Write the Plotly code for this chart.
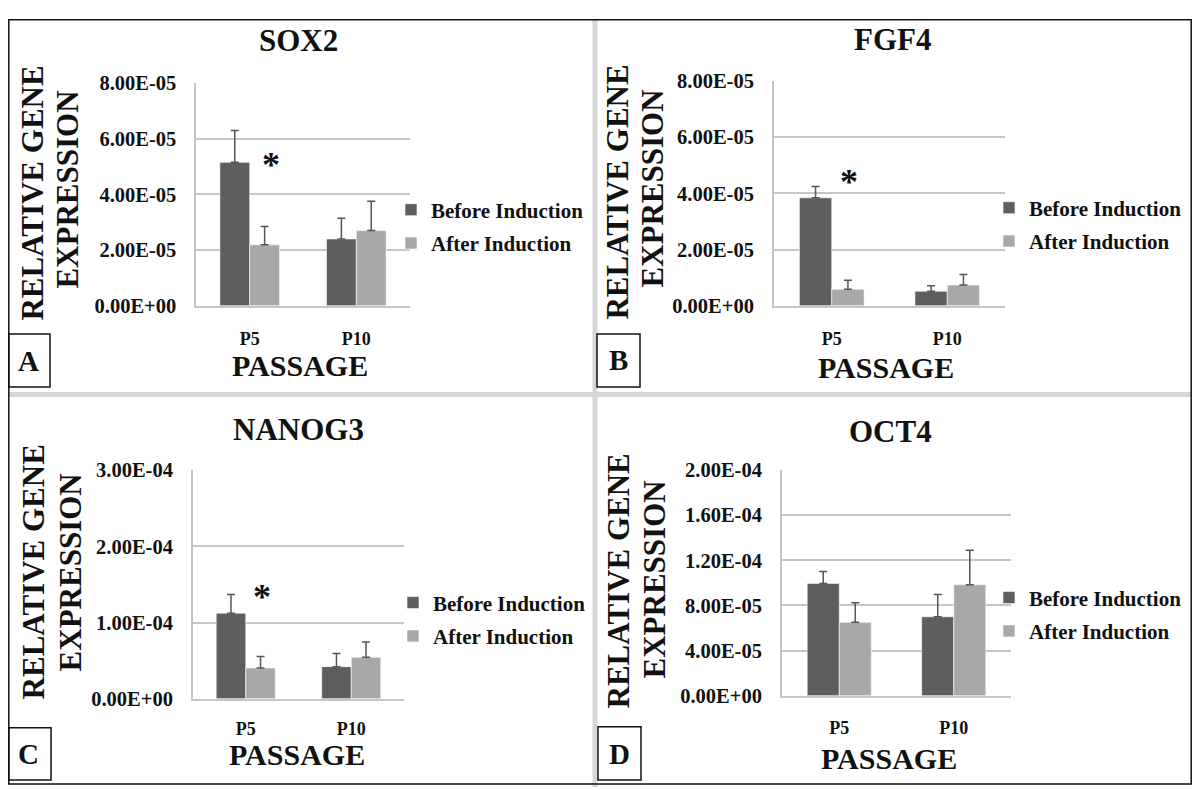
import plotly.graph_objects as go

# ---------------- data ----------------
categories = ["P5", "P10"]
genes = ["SOX2", "FGF4", "NANOG3", "OCT4"]
series_names = ["Before Induction", "After Induction"]

sox2_before = [5.15e-05, 2.40e-05]
sox2_before_err = [1.14e-05, 0.74e-05]
sox2_after = [2.19e-05, 2.70e-05]
sox2_after_err = [0.66e-05, 1.05e-05]

fgf4_before = [3.84e-05, 0.52e-05]
fgf4_before_err = [0.40e-05, 0.19e-05]
fgf4_after = [0.59e-05, 0.74e-05]
fgf4_after_err = [0.32e-05, 0.37e-05]

nanog3_before = [1.123e-04, 0.421e-04]
nanog3_before_err = [0.245e-04, 0.171e-04]
nanog3_after = [0.404e-04, 0.543e-04]
nanog3_after_err = [0.149e-04, 0.203e-04]

oct4_before = [9.96e-05, 7.00e-05]
oct4_before_err = [1.06e-05, 1.98e-05]
oct4_after = [6.52e-05, 9.84e-05]
oct4_after_err = [1.72e-05, 3.05e-05]

sox2_ticks = [0, 2e-05, 4e-05, 6e-05, 8e-05]
sox2_ticktext = ["0.00E+00", "2.00E-05", "4.00E-05", "6.00E-05", "8.00E-05"]
fgf4_ticks = [0, 2e-05, 4e-05, 6e-05, 8e-05]
fgf4_ticktext = ["0.00E+00", "2.00E-05", "4.00E-05", "6.00E-05", "8.00E-05"]
nanog3_ticks = [0, 1e-04, 2e-04, 3e-04]
nanog3_ticktext = ["0.00E+00", "1.00E-04", "2.00E-04", "3.00E-04"]
oct4_ticks = [0, 4e-05, 8e-05, 1.2e-04, 1.6e-04, 2e-04]
oct4_ticktext = ["0.00E+00", "4.00E-05", "8.00E-05", "1.20E-04", "1.60E-04", "2.00E-04"]

panel_letters = ["A", "B", "C", "D"]
y_title_lines = ["RELATIVE GENE", "EXPRESSION"]
x_title = "PASSAGE"

# ---------------- styling / layout ----------------
# screen placement of the figure inside the page (measured): x = 8 + xf, y = 18.8 + 0.97 * yf
OX, OY, SY = 8, 18.8, 0.97
FW, FH = 1184, 790
FONT = "Liberation Serif"
DARK = "#5e5e5e"
LIGHT = "#a8a8a8"
GRID = "#c6c6c6"
ERR = "#555555"


def px(x):
    return (x - OX) / FW


def py(y):
    return 1 - ((y - OY) / SY) / FH


panels = [
    dict(gene="SOX2", before=sox2_before, be=sox2_before_err, after=sox2_after, ae=sox2_after_err,
         ticks=sox2_ticks, ticktext=sox2_ticktext, xdom=(196.4, 409.6), ydom=(305, 82.6), xstand=16,
         title=(298, 40), passage=(300, 364.5), ytitle=((33, 193), (68, 189)),
         legend=(391, 189), star=(0.20, 5.16e-05), box=(5, 333, 50, 386), letter=(28, 360)),
    dict(gene="FGF4", before=fgf4_before, be=fgf4_before_err, after=fgf4_after, ae=fgf4_after_err,
         ticks=fgf4_ticks, ticktext=fgf4_ticktext, xdom=(774, 1005), ydom=(305, 80.5), xstand=16,
         title=(893, 39), passage=(886, 367), ytitle=((618, 192), (653, 188)),
         legend=(989, 187), star=(0.15, 4.5e-05), box=(597, 333, 640, 386), letter=(618.5, 359)),
    dict(gene="NANOG3", before=nanog3_before, be=nanog3_before_err, after=nanog3_after, ae=nanog3_after_err,
         ticks=nanog3_ticks, ticktext=nanog3_ticktext, xdom=(193, 404), ydom=(697, 469), xstand=13,
         title=(298, 428), passage=(297, 753), ytitle=((33, 571), (70, 571)),
         legend=(393, 581), star=(0.15, 1.38e-04), box=(5, 726, 51, 778), letter=(28, 752)),
    dict(gene="OCT4", before=oct4_before, be=oct4_before_err, after=oct4_after, ae=oct4_after_err,
         ticks=oct4_ticks, ticktext=oct4_ticktext, xdom=(782, 1011), ydom=(694, 469), xstand=15,
         title=(891, 430), passage=(889, 757), ytitle=((618, 580), (654, 578)),
         legend=(989, 576), star=None, box=(598, 725, 641, 778), letter=(619, 752)),
]

fig = go.Figure()
annotations = []
shapes = []
layout_axes = {}
legends = {}

for i, p in enumerate(panels):
    n = i + 1
    xa = "x" if n == 1 else f"x{n}"
    ya = "y" if n == 1 else f"y{n}"
    lg = "legend" if n == 1 else f"legend{n}"
    for name, vals, errs, col in [(series_names[0], p["before"], p["be"], DARK),
                                  (series_names[1], p["after"], p["ae"], LIGHT)]:
        fig.add_trace(go.Bar(
            x=categories, y=vals, name=name, marker=dict(color=col, line=dict(color="white", width=0.6)),
            error_y=dict(type="data", array=errs, symmetric=False, arrayminus=[0] * len(errs),
                         color=ERR, thickness=1.5, width=4),
            xaxis=xa, yaxis=ya, legend=lg, legendgroup=f"{p['gene']}-{name}",
            showlegend=True, hoverinfo="skip",
        ))
    layout_axes[("xaxis" if n == 1 else f"xaxis{n}")] = dict(
        domain=[px(p["xdom"][0]), px(p["xdom"][1])], anchor=ya, type="category",
        categoryorder="array", categoryarray=categories,
        showline=True, linecolor=GRID, linewidth=2, showgrid=False, ticks="",
        tickfont=dict(family=FONT, size=18, color="#111", weight="bold"), ticklabelstandoff=p["xstand"],
        fixedrange=True,
    )
    layout_axes[("yaxis" if n == 1 else f"yaxis{n}")] = dict(
        domain=[py(p["ydom"][0]), py(p["ydom"][1])], anchor=xa,
        range=[0, p["ticks"][-1]], tickvals=p["ticks"], ticktext=p["ticktext"],
        showline=True, linecolor=GRID, linewidth=2, showgrid=True, gridcolor=GRID, gridwidth=2,
        zeroline=False, ticks="", ticklabelstandoff=14,
        tickfont=dict(family=FONT, size=20.5, color="#111", weight="bold"), fixedrange=True,
    )
    legends[lg] = dict(
        x=px(p["legend"][0]), y=py(p["legend"][1]), xanchor="left", yanchor="top",
        bgcolor="rgba(0,0,0,0)", borderwidth=0, traceorder="grouped", tracegroupgap=3,
        font=dict(family=FONT, size=21, color="#111", weight="bold"),
    )
    annotations.append(dict(text=f"<b>{p['gene']}</b>", x=px(p["title"][0]), y=py(p["title"][1]),
                            xref="paper", yref="paper", showarrow=False, xanchor="center", yanchor="middle",
                            font=dict(family=FONT, size=31, color="#111")))
    annotations.append(dict(text=f"<b>{x_title}</b>", x=px(p["passage"][0]), y=py(p["passage"][1]),
                            xref="paper", yref="paper", showarrow=False, xanchor="center", yanchor="middle",
                            font=dict(family=FONT, size=30, color="#111")))
    for line, (lx, ly) in zip(y_title_lines, p["ytitle"]):
        annotations.append(dict(text=f"<b>{line}</b>", x=px(lx), y=py(ly), textangle=-90,
                                xref="paper", yref="paper", showarrow=False, xanchor="center",
                                yanchor="middle", font=dict(family=FONT, size=31, color="#111")))
    if p["star"] is not None:
        annotations.append(dict(text="<b>*</b>", x=p["star"][0], y=p["star"][1], xref=xa, yref=ya,
                                showarrow=False, xanchor="center", yanchor="middle", yshift=-3,
                                font=dict(family=FONT, size=36, color="#111")))
    bx0, by0, bx1, by1 = p["box"]
    shapes.append(dict(type="rect", xref="paper", yref="paper", x0=px(max(bx0, OX + 0.8)), x1=px(bx1),
                       y0=py(by1), y1=py(by0), line=dict(color="#111", width=1.5), fillcolor="white",
                       layer="above"))
    annotations.append(dict(text=f"<b>{panel_letters[i]}</b>", x=px(p["letter"][0]), y=py(p["letter"][1]),
                            xref="paper", yref="paper", showarrow=False, xanchor="center", yanchor="middle",
                            font=dict(family=FONT, size=29, color="#111")))

# separators and outer frame
shapes.insert(0, dict(type="line", xref="paper", yref="paper", x0=px(595), x1=px(595), y0=0, y1=1,
                      line=dict(color="#d6d6d6", width=5), layer="below"))
shapes.insert(0, dict(type="line", xref="paper", yref="paper", x0=0, x1=1, y0=py(393.5), y1=py(393.5),
                      line=dict(color="#d6d6d6", width=5), layer="below"))
shapes.append(dict(type="rect", xref="paper", yref="paper", x0=0.8 / FW, x1=1 - 0.8 / FW,
                   y0=py(782), y1=1 - 0.8 / FH,
                   line=dict(color="#111", width=1.5), fillcolor="rgba(0,0,0,0)", layer="above"))

fig.update_layout(
    width=FW, height=FH, margin=dict(l=0, r=0, t=0, b=0), autosize=False,
    paper_bgcolor="white", plot_bgcolor="white",
    barmode="group", bargap=0.44, bargroupgap=0,
    annotations=annotations, shapes=shapes, **layout_axes, **legends,
)

fig.write_html("out.html", config={"displayModeBar": False})
